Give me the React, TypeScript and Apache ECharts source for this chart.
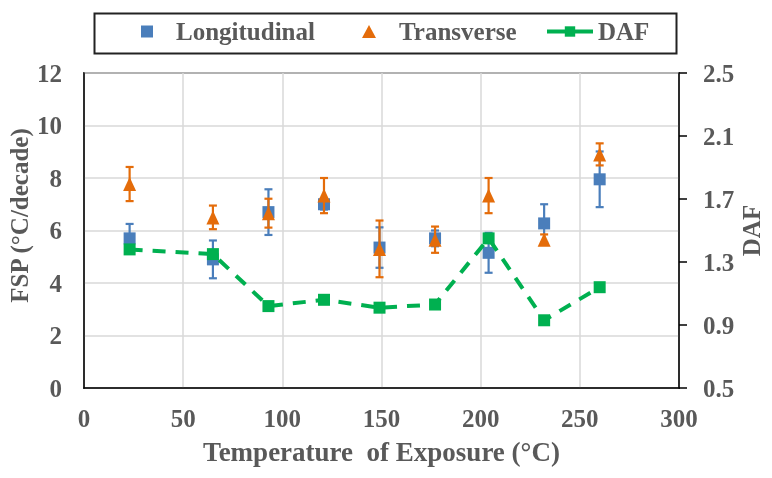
import React, { useEffect, useRef } from "react";
import * as echarts from "echarts";

const temperatures = [23, 65, 93, 121, 149, 177, 204, 232, 260];
const longitudinal = [5.7, 4.9, 6.7, 7.0, 5.35, 5.7, 5.15, 6.27, 7.95];
const longitudinalErr = [0.55, 0.72, 0.87, 0.2, 0.77, 0.3, 0.76, 0.73, 1.06];
const transverse = [7.77, 6.5, 6.66, 7.33, 5.3, 5.65, 7.33, 5.65, 8.9];
const transverseErr = [0.65, 0.45, 0.55, 0.67, 1.08, 0.5, 0.67, 0.2, 0.42];
const daf = [1.38, 1.35, 1.02, 1.06, 1.01, 1.03, 1.45, 0.93, 1.14];
const dafTicks = [0.5, 0.9, 1.3, 1.7, 2.1, 2.5];

const FONT = "'Liberation Serif', 'Times New Roman', serif";
const TEXT = "#595959";
const BLUE = "#4a7ebb";
const ORANGE = "#e46c0a";
const GREEN = "#00b050";

function errorBarSeries(name: string, vals: number[], errs: number[], color: string, z: number) {
  return {
    name,
    type: "custom",
    yAxisIndex: 0,
    z,
    silent: true,
    encode: { x: 0, y: [1, 2] },
    data: temperatures.map((t, i) => [t, vals[i] - errs[i], vals[i] + errs[i]]),
    renderItem: (params: any, api: any) => {
      const x = api.value(0);
      const top = api.coord([x, api.value(2)]);
      const bot = api.coord([x, api.value(1)]);
      const hw = 4;
      const style = { stroke: color, lineWidth: 2.2 };
      return {
        type: "group",
        children: [
          { type: "line", shape: { x1: top[0], y1: top[1], x2: bot[0], y2: bot[1] }, style },
          { type: "line", shape: { x1: top[0] - hw, y1: top[1], x2: top[0] + hw, y2: top[1] }, style },
          { type: "line", shape: { x1: bot[0] - hw, y1: bot[1], x2: bot[0] + hw, y2: bot[1] }, style },
        ],
      };
    },
  };
}

export default function App() {
  const ref = useRef<HTMLDivElement>(null);
  useEffect(() => {
    if (!ref.current) return;
    const chart = echarts.init(ref.current, undefined, { renderer: "svg" });
    const labelStyle = { color: TEXT, fontFamily: FONT, fontWeight: "bold" as const, fontSize: 25 };
    const legendBase = {
      top: 19,
      padding: 0,
      itemWidth: 12,
      itemHeight: 12,
      textStyle: { ...labelStyle, fontSize: 25, padding: [0, 0, 0, 18] },
      selectedMode: false,
    };
    chart.setOption({
      animation: false,
      textStyle: { fontFamily: FONT },
      grid: { left: 84, right: 93, top: 73, bottom: 90, containLabel: false, outerBoundsMode: "none", show: true, borderColor: "#000", borderWidth: 1.5 },
      legend: [
        { ...legendBase, left: 141, data: ["Longitudinal"] },
        { ...legendBase, left: 362, itemWidth: 14, itemHeight: 13, data: ["Transverse"] },
        {
          ...legendBase,
          left: 545,
          itemWidth: 46,
          itemHeight: 13,
          textStyle: { ...labelStyle, fontSize: 25 },
          data: ["DAF"],
          lineStyle: { type: "solid", width: 4 },
        },
      ],
      graphic: [
        {
          type: "rect",
          left: 92,
          top: 11,
          shape: { width: 582, height: 40 },
          style: { fill: "none", stroke: "#222", lineWidth: 2 },
          z: 100,
        },
      ],
      xAxis: {
        type: "value",
        min: 0,
        max: 300,
        interval: 50,
        name: "Temperature  of Exposure (\u00B0C)",
        nameLocation: "middle",
        nameGap: 50,
        nameMoveOverlap: false,
        nameTextStyle: { ...labelStyle, fontSize: 27 },
        axisLine: { show: true, lineStyle: { color: "#000", width: 1.5 } },
        axisTick: { show: false },
        axisLabel: { ...labelStyle, margin: 18 },
        splitLine: { show: true, lineStyle: { color: "#d9d9d9", width: 1.5 } },
      },
      yAxis: [
        {
          type: "value",
          min: 0,
          max: 12,
          interval: 2,
          name: "FSP (\u00B0C/decade)",
          nameLocation: "middle",
          nameRotate: 90,
          nameGap: 52,
          nameMoveOverlap: false,
          nameTextStyle: { ...labelStyle, fontSize: 25, padding: [0, 0, 0, 30] },
          axisLine: { show: true, lineStyle: { color: "#000", width: 1.5 } },
          axisTick: { show: false },
          axisLabel: { ...labelStyle, margin: 22 },
          splitLine: { show: true, lineStyle: { color: "#d9d9d9", width: 1.5 } },
        },
        {
          type: "value",
          min: 0.5,
          max: 2.5,
          position: "right",
          name: "DAF",
          nameLocation: "middle",
          nameRotate: 90,
          nameGap: 60,
          nameMoveOverlap: false,
          nameTextStyle: { ...labelStyle, fontSize: 25 },
          axisLine: { show: true, lineStyle: { color: "#000", width: 1.5 } },
          axisTick: { show: true, inside: false, length: 8, customValues: dafTicks, lineStyle: { color: "#000", width: 1.5 } },
          axisLabel: { ...labelStyle, margin: 24, customValues: dafTicks, formatter: (v: number) => v.toFixed(1) },
          splitLine: { show: false },
        },
      ],
      series: [
        errorBarSeries("LongErr", longitudinal, longitudinalErr, BLUE, 2),
        {
          name: "Longitudinal",
          type: "scatter",
          yAxisIndex: 0,
          symbol: "rect",
          symbolSize: 12,
          z: 3,
          itemStyle: { color: BLUE, opacity: 1 },
          data: temperatures.map((t, i) => [t, longitudinal[i]]),
        },
        errorBarSeries("TransErr", transverse, transverseErr, ORANGE, 4),
        {
          name: "Transverse",
          type: "scatter",
          yAxisIndex: 0,
          symbol: "triangle",
          symbolSize: [13, 14],
          z: 5,
          itemStyle: { color: ORANGE, opacity: 1 },
          data: temperatures.map((t, i) => [t, transverse[i]]),
        },
        {
          name: "DAF",
          type: "line",
          yAxisIndex: 1,
          symbol: "rect",
          symbolSize: 12,
          showSymbol: true,
          z: 6,
          itemStyle: { color: GREEN },
          lineStyle: { color: GREEN, width: 4, type: [13, 10] },
          data: temperatures.map((t, i) => [t, daf[i]]),
        },
      ],
    });
    return () => chart.dispose();
  }, []);
  return <div ref={ref} style={{ position: "fixed", left: 0, top: 0, width: 772, height: 478 }} />;
}
